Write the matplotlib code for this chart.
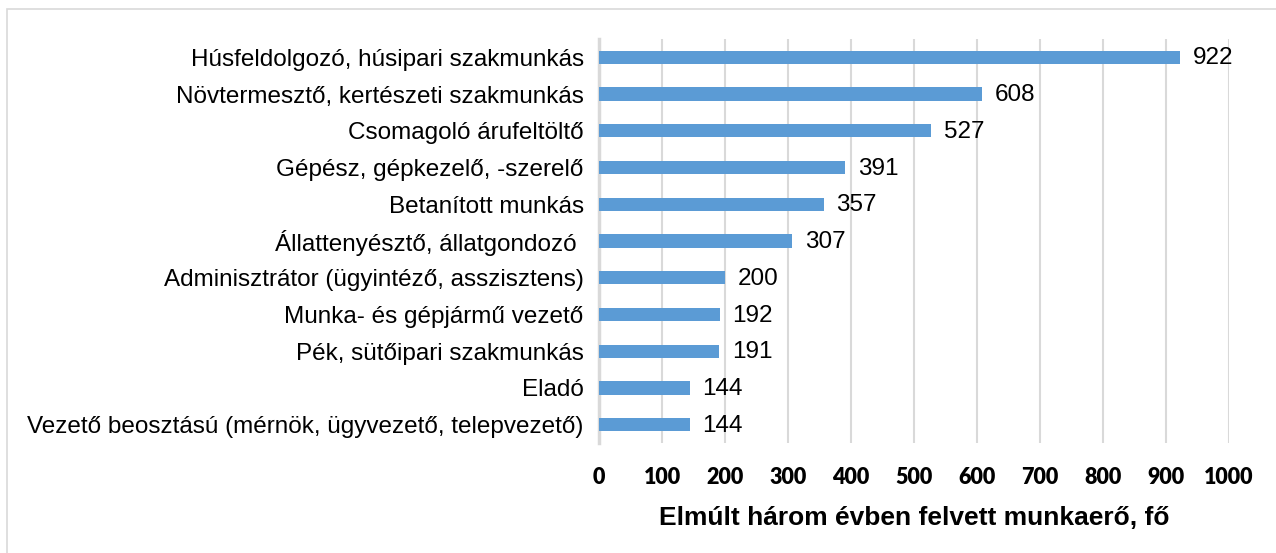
import matplotlib
matplotlib.use("Agg")
import matplotlib.pyplot as plt
from matplotlib.patches import Rectangle

categories = [
    "Húsfeldolgozó, húsipari szakmunkás",
    "Növtermesztő, kertészeti szakmunkás",
    "Csomagoló árufeltöltő",
    "Gépész, gépkezelő, -szerelő",
    "Betanított munkás",
    "Állattenyésztő, állatgondozó ",
    "Adminisztrátor (ügyintéző, asszisztens)",
    "Munka- és gépjármű vezető",
    "Pék, sütőipari szakmunkás",
    "Eladó",
    "Vezető beosztású (mérnök, ügyvezető, telepvezető)",
]
values = [922, 608, 527, 391, 357, 307, 200, 192, 191, 144, 144]
ticks = list(range(0, 1001, 100))

fig = plt.figure(figsize=(12.76, 5.53), dpi=100)
ax = fig.add_axes([599 / 1276, 1 - 443 / 553, 630 / 1276, 404 / 553])

# frame around the chart
fig.patches.append(Rectangle((7 / 1276, -0.05), 1.1, 1 - 9 / 553 + 0.05,
                             transform=fig.transFigure, fill=False,
                             edgecolor="#d9d9d9", linewidth=1.2))

pos = list(range(len(categories)))
ax.barh(pos, values, height=0.36, color="#5b9bd5", zorder=3)
for p, v in zip(pos, values):
    ax.text(v + 20, p + 0.03, str(v), va="center", ha="left", fontsize=17.5,
            family="Liberation Sans", color="#000000")

ax.set_ylim(len(categories) - 0.5, -0.5)
ax.set_xlim(0, 1000)
ax.set_yticks(pos)
ax.set_yticklabels(categories, fontsize=17.5, family="Liberation Sans")
ax.set_xticks(ticks)
ax.set_xticklabels([str(t) for t in ticks], fontsize=15.5, fontweight="heavy",
                   family="Lato")
ax.tick_params(axis="both", length=0)
ax.tick_params(axis="y", pad=11)
ax.tick_params(axis="x", pad=17)
ax.xaxis.grid(True, color="#d9d9d9", linewidth=1.5, zorder=0)
for s in ["top", "right", "bottom"]:
    ax.spines[s].set_visible(False)
ax.spines["left"].set_color("#d9d9d9")
ax.spines["left"].set_linewidth(2.5)
ax.set_xlabel("Elmúlt három évben felvett munkaerő, fő", fontsize=19,
              fontweight="bold", family="Liberation Sans", labelpad=13)

fig.savefig("out.png", dpi=100)
